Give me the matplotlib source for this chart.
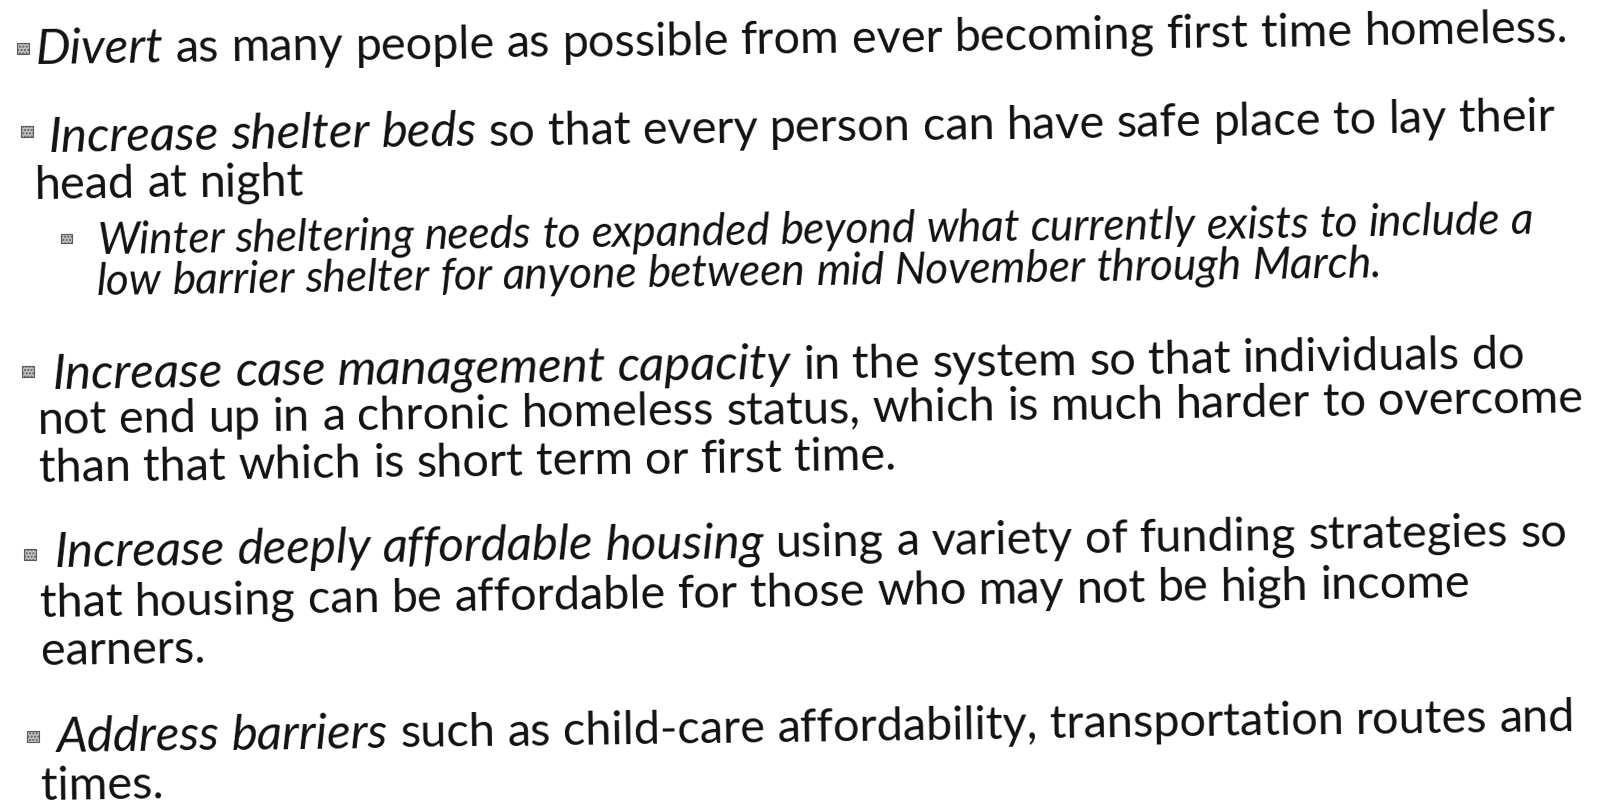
import math
import matplotlib.pyplot as plt
from matplotlib.patches import Rectangle

FONT = ['Lato', 'DejaVu Sans']
TXT = '#111111'

# italic lead-in of each main bullet
main_leads = [
    "Divert",
    "Increase shelter beds",
    "Increase case management capacity",
    "Increase deeply affordable housing",
    "Address barriers",
]
# remaining text of each bullet, one entry per printed line
main_lines = [
    ["as many people as possible from ever becoming first time homeless."],
    ["so that every person can have safe place to lay their",
     "head at night"],
    ["in the system so that individuals do",
     "not end up in a chronic homeless status, which is much harder to overcome",
     "than that which is short term or first time."],
    ["using a variety of funding strategies so",
     "that housing can be affordable for those who may not be high income",
     "earners."],
    ["such as child-care affordability, transportation routes and",
     "times."],
]
sub_lines = [
    "Winter sheltering needs to expanded beyond what currently exists to include a",
    "low barrier shelter for anyone between mid November through March.",
]

# layout (pixels): left baseline of each printed line, bullet boxes
main_first_xy = [(36, 64), (49, 152), (53, 389), (55, 567), (57, 752)]
main_cont_xy = [[], [(35, 199)], [(38, 434), (39, 482)], [(40, 617), (41, 665)], [(41, 800)]]
sub_xy = [(97, 254), (97, 295)]
main_bullets = [(17, 43), (21, 126), (22, 366), (24, 549), (27, 731)]
sub_bullets = [(61, 234)]
ANGLE = 0.8

fig = plt.figure(figsize=(16, 8.08), dpi=100)
ax = fig.add_axes([0, 0, 1, 1])
ax.set_xlim(0, 1600)
ax.set_ylim(808, 0)
ax.axis('off')
renderer = fig.canvas.get_renderer()
rad = math.radians(ANGLE)


def width(s, size, style='normal'):
    t = ax.text(0, 0, s, fontsize=size, style=style, family=FONT)
    w = t.get_window_extent(renderer).width
    t.remove()
    return w


def put(x, y, s, size, style):
    # word by word along the slightly tilted baseline of the scan
    sp = width("a a", size, style) - width("aa", size, style)
    words = s.split(" ")
    for i, wd in enumerate(words):
        ax.text(x, y, wd, fontsize=size, style=style, family=FONT, color=TXT,
                rotation=ANGLE, rotation_mode='anchor', ha='left', va='baseline')
        w = width(wd, size, style)
        if i < len(words) - 1:
            w += sp
        x, y = x + w * math.cos(rad), y - w * math.sin(rad)
    return x, y


# fit font sizes to the widths seen in the scan
main_size = 30 * 1532 / width(main_leads[0] + " " + main_lines[0][0], 30)
lead_size = main_size * 1.05
sub_size = 30 * 1434 / width(sub_lines[0], 30, 'italic')
space = width("a a", main_size) - width("aa", main_size)

for k, lead in enumerate(main_leads):
    x, y = main_first_xy[k]
    x, y = put(x, y, lead, lead_size, 'italic')
    put(x + space * math.cos(rad), y - space * math.sin(rad), main_lines[k][0], main_size, 'normal')
    for (cx, cy), s in zip(main_cont_xy[k], main_lines[k][1:]):
        put(cx, cy, s, main_size, 'normal')

for (sx, sy), s in zip(sub_xy, sub_lines):
    put(sx, sy, s, sub_size, 'italic')

for bx, by in main_bullets:
    ax.add_patch(Rectangle((bx, by), 12, 11, facecolor='#c0c0c0', edgecolor='#5a5a5a',
                           hatch='.....', linewidth=0.8))
for bx, by in sub_bullets:
    ax.add_patch(Rectangle((bx, by), 11, 9, facecolor='#c0c0c0', edgecolor='#5a5a5a',
                           hatch='.....', linewidth=0.8))

fig.savefig('out.png', dpi=100, facecolor='white')
